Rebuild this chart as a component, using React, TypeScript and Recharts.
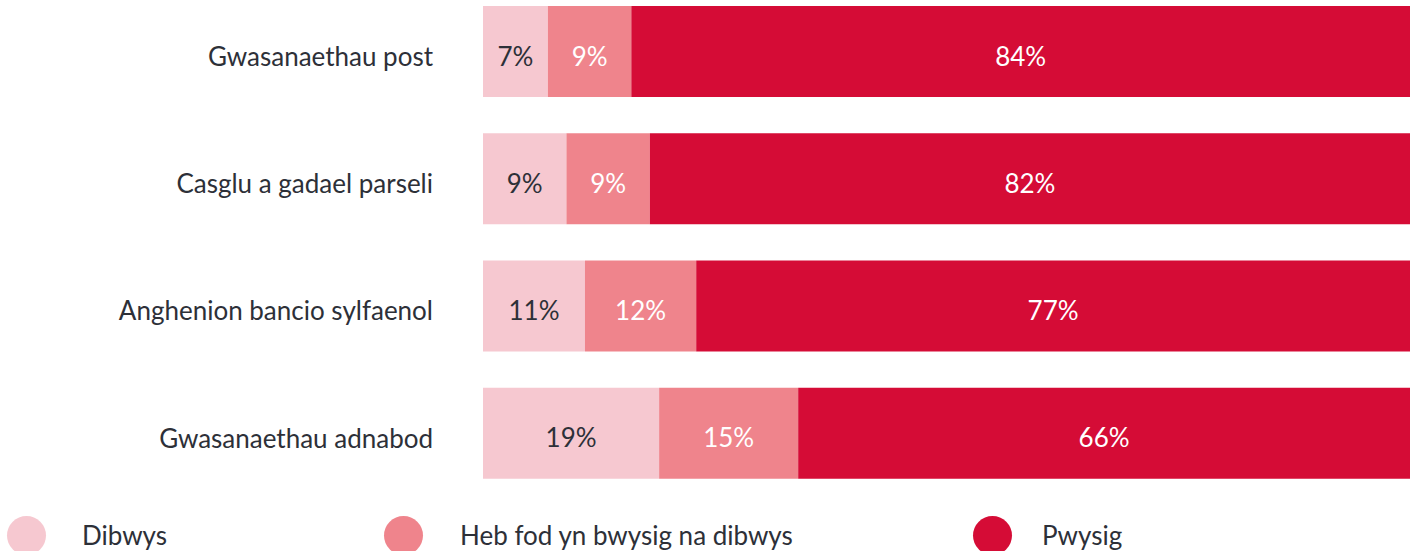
import { BarChart, Bar, XAxis, YAxis, LabelList } from "recharts";

const categories = [
  "Gwasanaethau post",
  "Casglu a gadael parseli",
  "Anghenion bancio sylfaenol",
  "Gwasanaethau adnabod",
];
const dibwys = [7, 9, 11, 19];
const hebFod = [9, 9, 12, 15];
const pwysig = [84, 82, 77, 66];

const series = [
  { key: "dibwys", name: "Dibwys", color: "#F6C8D0", text: "#2D3038" },
  { key: "heb", name: "Heb fod yn bwysig na dibwys", color: "#EF848C", text: "#FFFFFF" },
  { key: "pwysig", name: "Pwysig", color: "#D50C36", text: "#FFFFFF" },
];

const legendDot = [7, 384, 973];
const legendText = [82, 460, 1042];

const data = categories.map((c, i) => ({
  name: c,
  dibwys: dibwys[i],
  heb: hebFod[i],
  pwysig: pwysig[i],
}));

const FONT = "Lato, 'Noto Sans', sans-serif";
const FS = 26;

export default function App() {
  return (
    <div
      style={{
        position: "absolute",
        left: 0,
        top: 0,
        width: 1416,
        height: 551,
        overflow: "hidden",
        background: "#fff",
        fontFamily: FONT,
      }}
    >
      <BarChart
        width={1416}
        height={551}
        data={data}
        layout="vertical"
        margin={{ top: -12, right: 6, bottom: 54, left: 0 }}
        barSize={91}
      >
        <XAxis type="number" domain={[0, 100]} hide />
        <YAxis
          type="category"
          dataKey="name"
          width={483}
          axisLine={false}
          tickLine={false}
          tickMargin={44}
          tick={{ fill: "#2D3038", fontSize: FS, fontFamily: FONT, dy: 5 }}
        />
        {series.map((s) => (
          <Bar
            key={s.key}
            dataKey={s.key}
            stackId="a"
            fill={s.color}
            isAnimationActive={false}
          >
            <LabelList
              dataKey={s.key}
              position="center"
              formatter={(v: any) => `${v}%`}
              fill={s.text}
              fontSize={FS}
              fontFamily={FONT}
              dy={5}
            />
          </Bar>
        ))}
      </BarChart>
      {series.map((s, i) => (
        <div key={s.key}>
          <span
            style={{
              position: "absolute",
              left: legendDot[i],
              top: 516,
              width: 39,
              height: 39,
              borderRadius: "50%",
              background: s.color,
            }}
          />
          <span
            style={{
              position: "absolute",
              left: legendText[i],
              top: 521,
              fontSize: FS,
              lineHeight: "29px",
              color: "#2D3038",
              whiteSpace: "nowrap",
            }}
          >
            {s.name}
          </span>
        </div>
      ))}
    </div>
  );
}
